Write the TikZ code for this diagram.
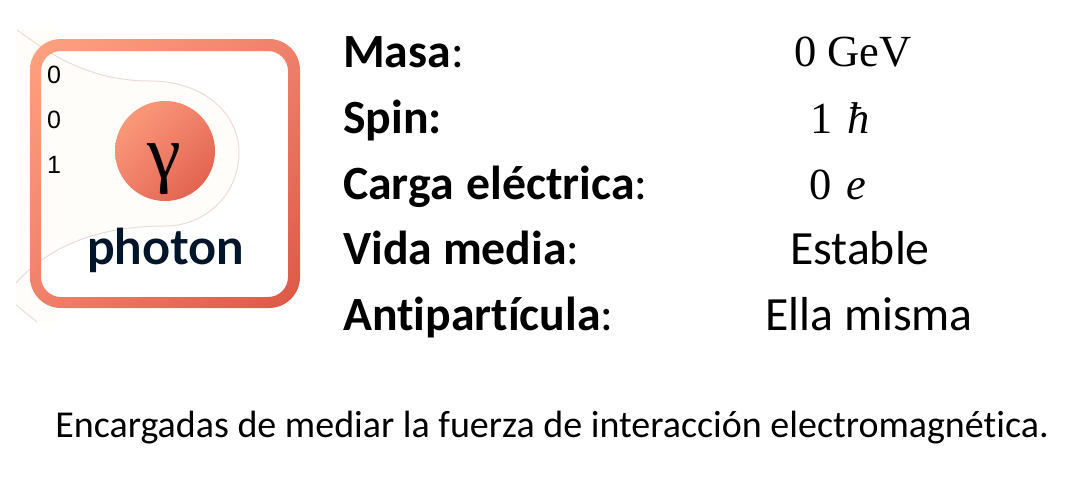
\documentclass[tikz,border=0pt]{standalone}
\usepackage{fontspec}
\usepackage{tikz}
\usetikzlibrary{shadings}
\setmainfont[Ligatures=NoCommon]{Carlito}
\newfontfamily\cambria{Liberation Serif}
\newfontfamily\arialf{Liberation Sans}
\newfontfamily\photonf{Lato}
\definecolor{cream}{HTML}{FFFDFA}
\definecolor{creamline}{HTML}{EADCD8}
\definecolor{darkname}{HTML}{00152A}
\definecolor{gradA}{HTML}{FFA280}
\definecolor{gradB}{HTML}{F0806A}
\definecolor{gradC}{HTML}{DC5845}
\tikzset{
  x=1pt,y=-1pt,
  lbl/.style={anchor=base west,inner sep=0pt,font=\fontsize{47.7}{48}\selectfont,text=black},
  val/.style={anchor=base,inner sep=0pt,font=\fontsize{47.7}{48}\selectfont,text=black},
  cpt/.style={anchor=base,inner sep=0pt,font=\fontsize{38}{38}\selectfont,text=black},
  mth/.style={anchor=base,inner sep=0pt,font=\cambria\fontsize{44.5}{45}\selectfont,text=black},
  num/.style={anchor=center,inner sep=0pt,font=\arialf\fontsize{25}{25}\selectfont,text=black},
  blob/.style={fill=cream},
  blobline/.style={draw=creamline,line width=1pt},
  grad/.style={upper left=gradA,upper right=gradB,lower left=gradB,lower right=gradC},
}
\begin{document}
\begin{tikzpicture}
\useasboundingbox (0,0) rectangle (1077,490);
% cream background card
\fill[blob] (17,30) -- (16,30) -- (16,305) -- (37,322) -- (60,322) -- (60,30) -- cycle;
\fill[white] [rounded corners=20pt] (41,51) rectangle (288,297);
\begin{scope}
\clip (16,20) rectangle (300,322);
\fill[blob] (17,30) .. controls (45,50) and (85,81) .. (150,81)
  .. controls (205,81) and (239,115) .. (239,152)
  .. controls (239,195) and (205,226) .. (165,226)
  .. controls (100,226) and (50,245) .. (16,283) -- cycle;
\draw[blobline] (17,30) .. controls (45,50) and (85,81) .. (150,81)
  .. controls (205,81) and (239,115) .. (239,152)
  .. controls (239,195) and (205,226) .. (165,226)
  .. controls (100,226) and (50,245) .. (16,283);
\draw[blobline] (16,305) -- (37,322);
\end{scope}
% frame
\shade[grad,even odd rule]
  [rounded corners=31pt] (30,39) rectangle (300,308)
  [rounded corners=20pt] (41,51) rectangle (288,297);
% badge
\shade[grad] (165,151) circle (50);
\node[inner sep=0pt,anchor=base,font=\cambria\fontsize{76}{76}\selectfont,text=black] (sym) at (164,178) {γ};
\node[inner sep=0pt,anchor=base,font=\photonf\bfseries\fontsize{49}{49}\selectfont,text=darkname] (name) at (165.5,264.5) {photon};
\node[num] (n1) at (54,75) {0};
\node[num] (n2) at (54,120) {0};
\node[num] (n3) at (54,165) {1};
% table
\node[lbl] (l1) at (343,67) {\textbf{Masa}:};
\node[lbl] (l2) at (343,133) {\textbf{Spin:}};
\node[lbl] (l3) at (343,199) {\textbf{Carga\hspace{2pt} eléctrica}:};
\node[lbl] (l4) at (343,264) {\textbf{Vida media}:};
\node[lbl] (l5) at (343,330) {\textbf{Antipartícula}:};
\node[mth] (v1) at (853,66) {0 GeV};
\node[mth] (v2) at (840,133) {1\hspace{4pt} \textit{ħ}};
\node[mth] (v3) at (838,199) {0\hspace{4pt} \textit{e}};
\node[val] (v4) at (860,264) {Estable};
\node[val] (v5) at (869,330) {Ella misma};
\node[cpt] (cap) at (552,437.5) {Encargadas de mediar la fuerza de interacción electromagnética.};
\end{tikzpicture}
\end{document}
